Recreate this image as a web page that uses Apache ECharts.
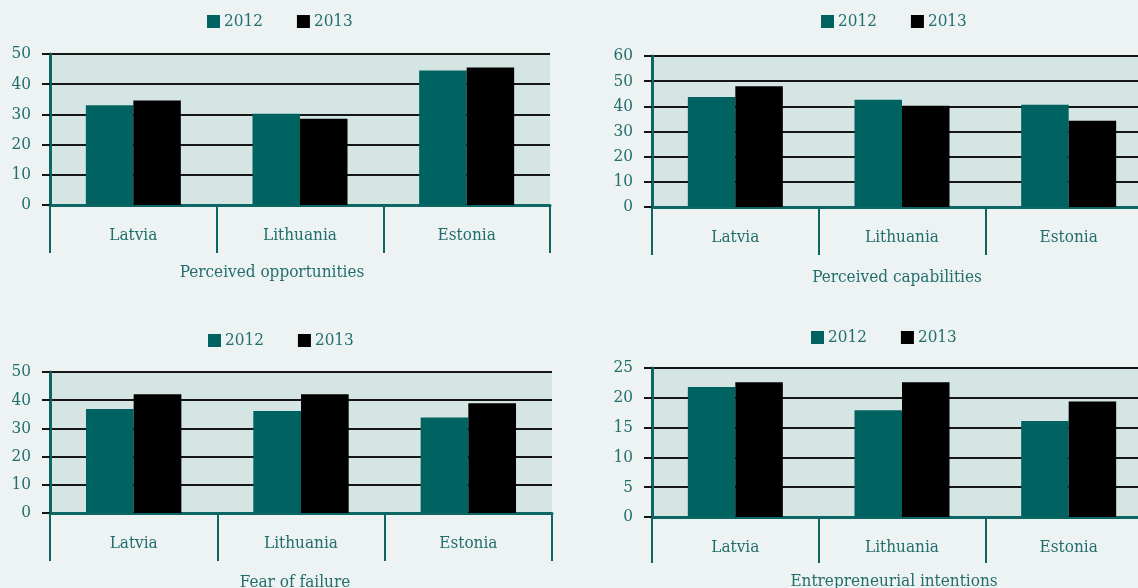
<!DOCTYPE html>
<html><head><meta charset="utf-8">
<script src="https://cdn.jsdelivr.net/npm/echarts@6/dist/echarts.min.js"></script>
<style>html,body{margin:0;padding:0;background:#edf3f3;overflow:hidden;}#c{width:1138px;height:588px;}</style>
</head><body><div id="c"></div>
<script>
const categories = ['Latvia', 'Lithuania', 'Estonia'];
const years = ['2012', '2013'];
const titles = ['Perceived opportunities', 'Perceived capabilities', 'Fear of failure', 'Entrepreneurial intentions'];
const opp2012 = [33, 30.2, 44.5];
const opp2013 = [34.6, 28.6, 45.5];
const cap2012 = [43.7, 42.6, 40.6];
const cap2013 = [48, 40.2, 34.3];
const fear2012 = [36.9, 36.2, 33.9];
const fear2013 = [42.1, 42.1, 38.9];
const int2012 = [21.8, 17.9, 16.1];
const int2013 = [22.6, 22.6, 19.4];
const yMax = [50, 60, 50, 25];
const yStep = [10, 10, 10, 5];

const TEAL_TXT = '#226e6c';
const BAR_TEAL = '#006261';
const FONT = '"DejaVu Serif Condensed", "DejaVu Serif", serif';
const grids = [
  {left: 50, top: 54, width: 500, height: 151},
  {left: 652, top: 56, width: 500, height: 151},
  {left: 50, top: 372, width: 502, height: 141},
  {left: 652, top: 368, width: 500, height: 149}
];
const nameGaps = [59, 62, 61, 56];
const namePad = [[0, 56, 0, 0], [0, 10, 0, 0], [0, 12, 0, 0], [0, 16, 0, 0]];
const tickLen = [48, 48, 48, 46];
const legendPos = [{left: 207, top: 13}, {left: 821, top: 13}, {left: 208, top: 332}, {left: 811, top: 329}];
const data = [[opp2012, opp2013], [cap2012, cap2013], [fear2012, fear2013], [int2012, int2013]];

const option = {
  backgroundColor: '#edf3f3',
  animation: false,
  grid: grids.map(g => Object.assign({show: true, backgroundColor: '#d5e5e4', borderWidth: 0,
    containLabel: false, outerBoundsMode: 'none'}, g)),
  legend: legendPos.map(p => ({
    left: p.left, top: p.top, padding: 0, itemGap: 34, itemWidth: 13, itemHeight: 13,
    icon: 'rect', data: years,
    textStyle: {color: TEAL_TXT, fontSize: 17, fontFamily: FONT, padding: [0, 0, 0, -1]}
  })),
  xAxis: grids.map((g, i) => ({
    type: 'category', gridIndex: i, data: categories,
    name: titles[i], nameLocation: 'middle', nameGap: nameGaps[i],
    nameTextStyle: {color: TEAL_TXT, fontSize: 17, fontFamily: FONT, padding: namePad[i]},
    axisLine: {lineStyle: {color: '#0b6664', width: 3}},
    axisTick: {show: true, length: tickLen[i], lineStyle: {color: '#0b6664', width: 2}},
    axisLabel: {color: TEAL_TXT, fontSize: 17, fontFamily: FONT, margin: 22},
    splitLine: {show: false}
  })),
  yAxis: grids.map((g, i) => ({
    type: 'value', gridIndex: i, min: 0, max: yMax[i], interval: yStep[i],
    axisLine: {show: true, lineStyle: {color: '#0b6664', width: 3}},
    axisTick: {show: true, length: 8, lineStyle: {color: '#151515', width: 2}},
    axisLabel: {color: TEAL_TXT, fontSize: 17, fontFamily: FONT, margin: 19},
    splitLine: {show: true, lineStyle: {color: '#151515', width: 2}}
  })),
  series: []
};
data.forEach((pair, i) => {
  pair.forEach((vals, j) => {
    option.series.push({
      type: 'bar', name: years[j], xAxisIndex: i, yAxisIndex: i, data: vals,
      barGap: '0%', barCategoryGap: '43%',
      itemStyle: {color: j === 0 ? BAR_TEAL : '#000000'}
    });
  });
});
const chart = echarts.init(document.getElementById('c'));
chart.setOption(option);
</script></body></html>
